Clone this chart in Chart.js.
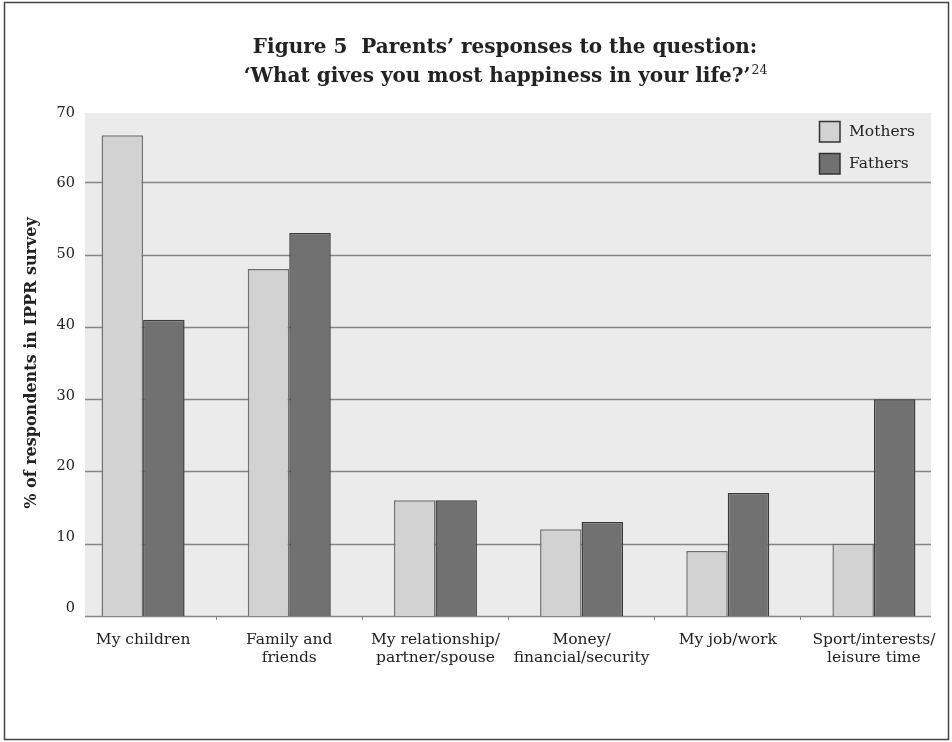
<!DOCTYPE html>
<html lang="en">
<head>
<meta charset="UTF-8">
<title>Figure 5</title>
<style>
  html, body { margin: 0; padding: 0; background: #fff; }
  canvas { display: block; }
</style>
</head>
<body>
<canvas id="myChart" width="952" height="742"></canvas>
<script src="https://cdn.jsdelivr.net/npm/chart.js"></script>
<script>
  // data
  const categories = [
    ["My children"],
    ["Family and", "friends"],
    ["My relationship/", "partner/spouse"],
    ["Money/", "financial/security"],
    ["My job/work"],
    ["Sport/interests/", "leisure time"]
  ];
  const mothers = [66.5, 48, 16, 12, 9, 10];
  const fathers = [41, 53, 16, 13, 17, 30];
  const yTicks = [0, 10, 20, 30, 40, 50, 60, 70];
  const titleLines = ["Figure 5  Parents\u2019 responses to the question:", "\u2018What gives you most happiness in your life?\u2019"];
  const titleNote = "24";
  const yTitle = "% of respondents in IPPR survey";

  const SERIF = "'DejaVu Serif', 'Liberation Serif', serif";
  const plotLeft = 85, plotRight = 931;

  // grey panel + horizontal rules behind the bars
  const backdrop = {
    id: "backdrop",
    beforeDatasetsDraw(chart) {
      const c = chart.ctx, y = chart.scales.y, area = chart.chartArea;
      c.save();
      c.fillStyle = "#ebebeb";
      c.fillRect(plotLeft, area.top + 3, plotRight - plotLeft, area.bottom - area.top - 3);
      c.strokeStyle = "#858585";
      c.lineWidth = 1.7;
      yTicks.forEach(v => {
        if (v >= 70) return;
        const py = Math.round(y.getPixelForValue(v)) + 0.5;
        c.beginPath();
        c.moveTo(plotLeft, py);
        c.lineTo(plotRight, py);
        c.stroke();
      });
      c.restore();
    }
  };

  const decorations = {
    id: "decorations",
    afterDraw(chart) {
      const c = chart.ctx, y = chart.scales.y;
      c.save();
      // y tick labels (the printed ones sit a touch tighter than the rules)
      c.fillStyle = "#222";
      c.font = "14.5px " + SERIF;
      c.textAlign = "right";
      c.textBaseline = "middle";
      y.ticks.forEach(t => {
        const py = y.getPixelForValue(t.value) - 8 + 11 * t.value / 70;
        c.fillText(String(t.value), 75, py);
      });

      // title with superscript note
      c.textBaseline = "alphabetic";
      c.textAlign = "left";
      const cx = 505;
      c.font = "bold 20px " + SERIF;
      let w = c.measureText(titleLines[0]).width;
      c.fillText(titleLines[0], cx - w / 2, 53);
      w = c.measureText(titleLines[1]).width;
      c.font = "12.5px " + SERIF;
      const ws = c.measureText(titleNote).width;
      const x0 = cx - (w + ws) / 2;
      c.font = "bold 20px " + SERIF;
      c.fillText(titleLines[1], x0, 82);
      c.font = "12.5px " + SERIF;
      c.fillText(titleNote, x0 + w + 1, 74);

      // legend in the top-right of the panel
      c.font = "15.5px " + SERIF;
      c.textBaseline = "middle";
      chart.data.datasets.forEach((ds, i) => {
        const bx = 819, by = 121 + i * 32;
        c.fillStyle = ds.backgroundColor;
        c.fillRect(bx, by, 21, 21);
        c.strokeStyle = "#333";
        c.lineWidth = 1.5;
        c.strokeRect(bx + 0.5, by + 0.5, 20.5, 20.5);
        c.fillStyle = "#222";
        c.fillText(ds.label, 849, by + 11);
      });

      // outer frame
      c.strokeStyle = "#444";
      c.lineWidth = 1.5;
      c.strokeRect(4.5, 2.5, 944, 737);
      c.restore();
    }
  };

  const ctx = document.getElementById("myChart");
  new Chart(ctx, {
    type: "bar",
    data: {
      labels: categories,
      datasets: [
        { label: "Mothers", data: mothers, backgroundColor: "#d2d2d2", borderColor: "#707070", borderWidth: 1.5 },
        { label: "Fathers", data: fathers, backgroundColor: "#717171", borderColor: "#3c3c3c", borderWidth: 1.5 }
      ]
    },
    options: {
      responsive: false,
      animation: false,
      layout: { padding: { top: 110, right: 5, bottom: 0, left: 0 } },
      datasets: { bar: { categoryPercentage: 0.568, barPercentage: 1.0 } },
      plugins: {
        legend: { display: false },
        title: { display: false },
        tooltip: { enabled: false }
      },
      scales: {
        x: {
          offset: true,
          afterFit: s => { s.height = 126; },
          border: { display: false },
          grid: {
            offset: true,
            drawOnChartArea: false,
            drawTicks: true,
            tickLength: 4,
            lineWidth: 1,
            color: c => (c.index === undefined || c.index === 0) ? "rgba(0,0,0,0)" : "#888"
          },
          ticks: {
            padding: 11,
            autoSkip: false,
            maxRotation: 0,
            color: "#222",
            font: { family: SERIF, size: 15.5, lineHeight: 1.15 }
          }
        },
        y: {
          min: 0,
          max: 70,
          afterFit: s => { s.width = 70; },
          afterBuildTicks: s => { s.ticks = yTicks.map(v => ({ value: v })); },
          border: { display: false },
          grid: { display: false, drawTicks: false },
          ticks: { display: false },
          title: {
            display: true,
            text: yTitle,
            color: "#222",
            padding: { top: 22, bottom: 0 },
            font: { family: SERIF, size: 16, weight: "bold", lineHeight: 1.2 }
          }
        }
      }
    },
    plugins: [backdrop, decorations]
  });
</script>
</body>
</html>
